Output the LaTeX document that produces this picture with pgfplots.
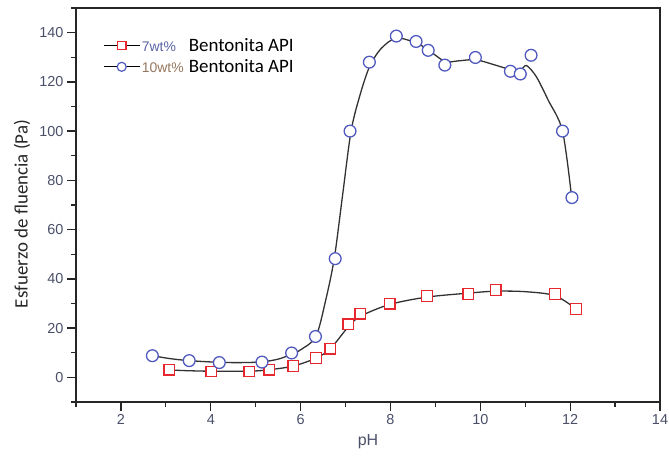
\documentclass[border=0pt]{standalone}
\usepackage{pgfplots}
\pgfplotsset{compat=1.18}
\usepackage{fontspec}
\setmainfont{Liberation Sans}
\newfontfamily\calibri{Carlito}

\definecolor{sqred}{RGB}{232,38,46}
\definecolor{cirblue}{RGB}{80,90,190}
\definecolor{fitgray}{RGB}{50,50,50}
\definecolor{ticktext}{RGB}{75,80,105}
\definecolor{smallblue}{RGB}{90,100,165}
\definecolor{smalltan}{RGB}{150,120,95}

% 7 wt% bentonite: yield stress vs pH
\pgfplotstableread{
x y
3.08 3.1
4.01 2.4
4.86 2.4
5.30 3.1
5.84 4.6
6.34 7.9
6.66 11.6
7.06 21.6
7.33 25.8
7.98 29.9
8.81 33.1
9.73 33.9
10.34 35.5
11.66 33.8
12.13 27.8
}\sevenwt

% 10 wt% bentonite: yield stress vs pH
\pgfplotstableread{
x y
2.70 8.8
3.52 6.8
4.19 6.0
5.14 6.2
5.80 9.9
6.33 16.6
6.77 48.2
7.10 100.0
7.53 128.0
8.13 138.6
8.57 136.4
8.84 132.8
9.21 126.8
9.89 129.9
10.67 124.3
10.89 123.2
11.13 130.8
11.83 100.0
12.04 73.0
}\tenwt

% fitted trend lines
\pgfplotstableread{
x y
3.08 3.0
3.50 2.7
4.01 2.5
4.86 2.5
5.30 3.1
5.84 4.6
6.34 7.8
6.66 11.6
7.06 20.5
7.33 24.8
7.98 29.6
8.81 32.6
9.73 34.2
10.34 35.0
11.00 34.8
11.66 33.2
12.13 27.8
}\sevenfit

\pgfplotstableread{
x y
2.70 8.8
3.10 7.6
3.52 6.8
4.19 6.1
4.70 6.0
5.14 6.3
5.50 7.4
5.80 9.4
6.00 11.2
6.34 16.6
6.56 31.5
6.75 48.4
6.93 73.4
7.12 99.7
7.31 113.9
7.53 126.0
7.79 133.5
8.13 137.8
8.57 135.8
8.84 133.0
9.21 128.3
9.50 128.5
9.89 129.0
10.30 127.0
10.67 125.0
10.89 124.8
11.03 126.6
11.25 122.0
11.51 112.6
11.83 100.0
12.04 72.0
}\tenfit

\begin{document}
\begin{tikzpicture}[x=1bp,y=1bp]
\path[use as bounding box] (0,0) rectangle (669,457);
\begin{axis}[
  at={(76bp,55bp)}, anchor=south west,
  width=584bp, height=394bp, scale only axis,
  xmin=1, xmax=14, ymin=-10, ymax=150,
  xtick={2,4,...,14}, minor xtick={1,3,...,13},
  ytick={0,20,...,140}, minor ytick={-10,10,...,150},
  tick align=outside, tick pos=left,
  major tick length=9bp, minor tick length=5bp,
  axis line style={black!85, line width=1.3bp},
  every tick/.style={black!85, line width=1.3bp},
  /pgf/number format/assume math mode=true,
  ticklabel style={font=\fontsize{14.5}{16}\selectfont, text=ticktext},
  legend style={draw=none, fill=none, at={(axis cs:1.60,138.0)}, anchor=north west,
    inner sep=0pt, row sep=5.5bp, column sep=1bp,
    nodes={inner sep=0.6bp, anchor=west}},
  legend cell align=left,
  legend image code/.code={%
    \draw[mark repeat=2, mark phase=2] plot coordinates {(0bp,0bp) (18bp,0bp) (36bp,0bp)};},
]
\addlegendimage{black, line width=1.1bp, mark=square*, mark size=4.3bp,
  mark options={draw=sqred, fill=white, line width=1.2bp, solid}}
\addlegendentry{\makebox[47bp][l]{\fontsize{14}{14}\selectfont\color{smallblue}7wt\%}\calibri\fontsize{19}{19}\selectfont Bentonita API}
\addlegendimage{black, line width=1.1bp, mark=*, mark size=4.5bp,
  mark options={draw=cirblue, fill=white, line width=1.2bp, solid}}
\addlegendentry{\makebox[47bp][l]{\fontsize{14}{14}\selectfont\color{smalltan}10wt\%}\calibri\fontsize{19}{19}\selectfont Bentonita API}

\addplot[fitgray, line width=1.3bp, smooth, tension=0.5, forget plot] table {\sevenfit};
\addplot[fitgray, line width=1.3bp, smooth, tension=0.5, forget plot] table {\tenfit};

\addplot[sqred, only marks, mark=square*, mark size=5.3bp,
  mark options={draw=sqred, fill=white, line width=1.3bp}, forget plot] table {\sevenwt};
\addplot[cirblue, only marks, mark=*, mark size=5.9bp,
  mark options={draw=cirblue, fill=white, line width=1.3bp}, forget plot] table {\tenwt};
\end{axis}
\node[rotate=90, text=black!85, font=\calibri\fontsize{19}{19}\selectfont] at (22,243) {Esfuerzo de fluencia (Pa)};
\node[text=ticktext, font=\fontsize{16}{16}\selectfont] at (368,15) {pH};
\end{tikzpicture}
\end{document}
